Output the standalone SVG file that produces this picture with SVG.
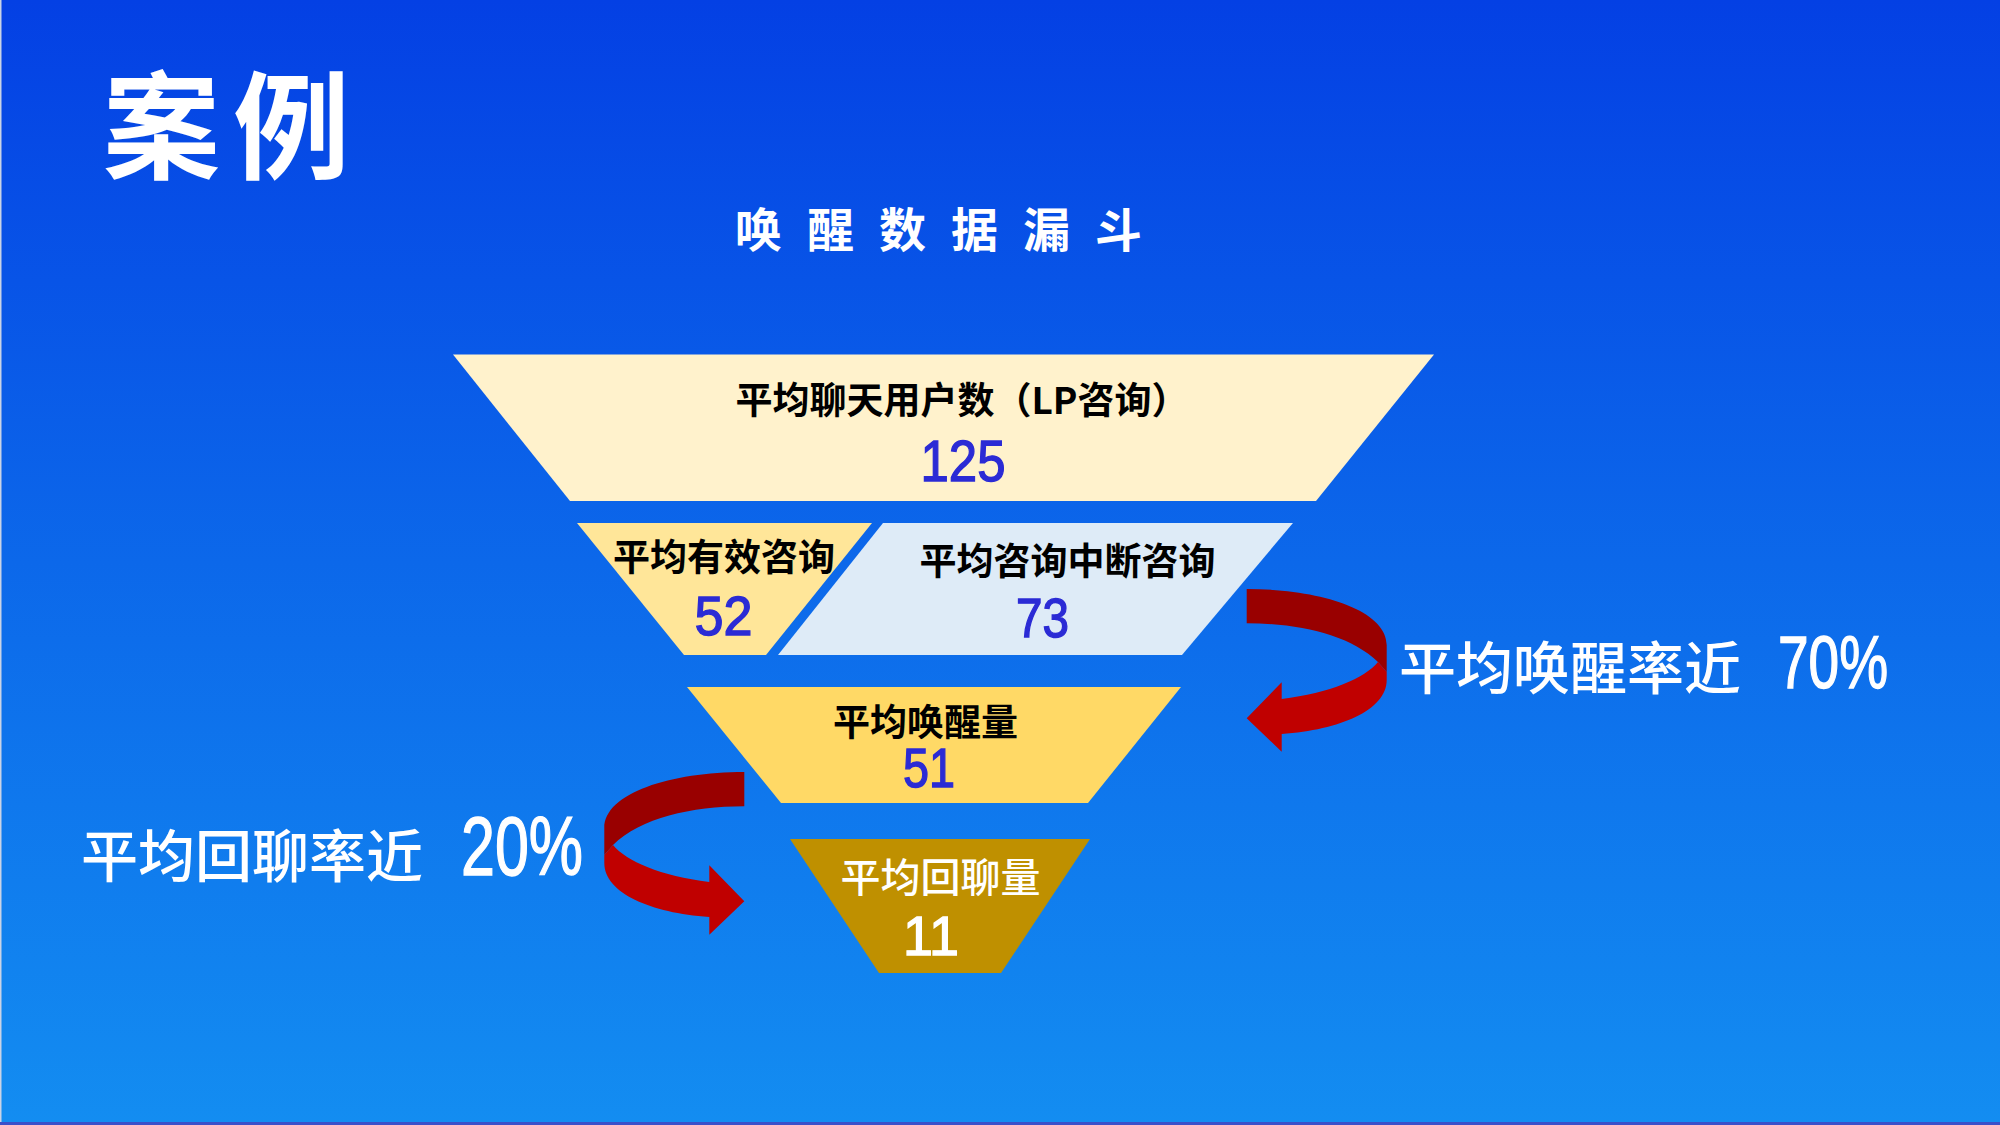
<svg xmlns="http://www.w3.org/2000/svg" width="2000" height="1125" viewBox="0 0 2000 1125">
<defs>
<linearGradient id="bg" x1="0" y1="0" x2="0" y2="1">
<stop offset="0" stop-color="#0440E4"/>
<stop offset="0.5" stop-color="#0C68EA"/>
<stop offset="1" stop-color="#138DF1"/>
</linearGradient>
<g id="curl">
<path class="dark" d="M1246.7,589 C1320,589 1386.7,610 1386.7,645 L1386.7,672 L1378,662 C1350,635 1300,623.3 1246.7,623.3 Z"/>
<path class="light" d="M1378,662 L1386.7,672 L1386.7,680 C1386.7,710 1340,730 1281.7,734 L1281.7,751.7 L1246.7,718.3 L1281.7,682.3 L1281.7,699 C1330,693 1365,678 1378,662 Z"/>
</g>
</defs>
<style>
.cjk{font-family:"Noto Sans CJK SC","Liberation Sans",sans-serif;}
.lbl{font-family:"Noto Sans CJK SC","Liberation Sans",sans-serif;font-weight:700;font-size:37px;fill:#000;text-anchor:middle;}
.num{font-family:"Liberation Sans","Noto Sans CJK SC",sans-serif;fill:#2B2BD5;stroke:#2B2BD5;stroke-width:1.4px;text-anchor:middle;}
.wnum{font-family:"Liberation Sans","Noto Sans CJK SC",sans-serif;fill:#fff;stroke:#fff;stroke-width:1.4px;}
.call{font-family:"Noto Sans CJK SC","Liberation Sans",sans-serif;font-weight:500;font-size:57px;fill:#fff;}
.dark{fill:#990000;}
.light{fill:#C00000;}
</style>
<rect x="0" y="0" width="2000" height="1125" fill="url(#bg)"/>
<rect x="0" y="0" width="1.5" height="1125" fill="#C9D3E6"/>
<rect x="0" y="1122" width="2000" height="3" fill="#3B4FC9"/>

<g id="title">
<text class="cjk" x="103" y="170" font-size="117" font-weight="700" letter-spacing="13" fill="#fff">案例</text>
</g>
<g id="subtitle">
<text class="cjk" x="735" y="247" font-size="47" font-weight="700" letter-spacing="25" fill="#fff">唤醒数据漏斗</text>
</g>

<g id="node-total">
<polygon points="453,354.6 1434,354.6 1316,501 570,501" fill="#FFF2CC"/>
<text class="lbl" x="962" y="414">平均聊天用户数（LP咨询）</text>
<text class="num" x="963" y="480.5" font-size="58" textLength="85" lengthAdjust="spacingAndGlyphs">125</text>
</g>

<g id="node-valid">
<polygon points="577,523 872,523 766,655 684,655" fill="#FFE699"/>
<text class="lbl" x="724" y="571">平均有效咨询</text>
<text class="num" x="723.5" y="635" font-size="56" textLength="58" lengthAdjust="spacingAndGlyphs">52</text>
</g>

<g id="node-broken">
<polygon points="883,523 1293,523 1182,655 778,655" fill="#DEEBF7"/>
<text class="lbl" x="1067.5" y="575">平均咨询中断咨询</text>
<text class="num" x="1042.5" y="637" font-size="56" textLength="53" lengthAdjust="spacingAndGlyphs">73</text>
</g>

<g id="node-wake">
<polygon points="687,687 1181,687 1088,803 781,803" fill="#FFD966"/>
<text class="lbl" x="925.5" y="736">平均唤醒量</text>
<text class="num" x="929" y="787" font-size="55" textLength="52" lengthAdjust="spacingAndGlyphs">51</text>
</g>

<g id="node-reply">
<polygon points="790,839 1090,839 1001,973 879,973" fill="#BF9000"/>
<text class="cjk" x="940.5" y="892" font-size="40" font-weight="500" fill="#fff" text-anchor="middle">平均回聊量</text>
<text class="wnum" x="931" y="955" font-size="56" text-anchor="middle" textLength="56" lengthAdjust="spacingAndGlyphs">11</text>
</g>

<g id="connectors">
<use href="#curl"/>
<use href="#curl" transform="translate(1991 183) scale(-1 1)"/>
</g>

<g id="label-wake-rate">
<text class="call" x="1399" y="689">平均唤醒率近</text>
<text class="wnum" x="1778" y="688" font-size="74" textLength="110" lengthAdjust="spacingAndGlyphs">70%</text>
</g>

<g id="label-reply-rate">
<text class="call" x="81" y="877">平均回聊率近</text>
<text class="wnum" x="461" y="875" font-size="83" textLength="122" lengthAdjust="spacingAndGlyphs">20%</text>
</g>
</svg>
